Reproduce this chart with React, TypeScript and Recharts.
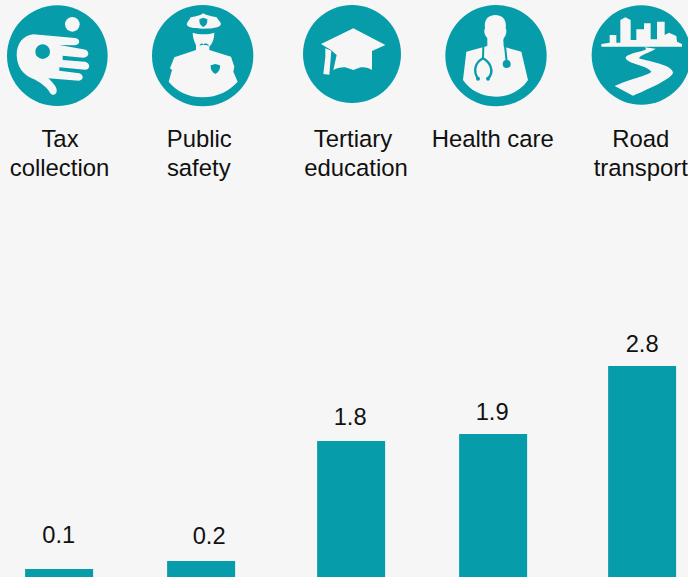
import React from "react";
import { BarChart, Bar, XAxis, YAxis, LabelList, Rectangle } from "recharts";

const categories = ["Tax collection", "Public safety", "Tertiary education", "Health care", "Road transport"];
const values = [0.1, 0.2, 1.8, 1.9, 2.8];
const labelLines = [["Tax", "collection"], ["Public", "safety"], ["Tertiary", "education"], ["Health care"], ["Road", "transport"]];

const rows = categories.map((name, i) => ({ name, value: values[i] }));

const TEAL = "#079ca9";
const BG = "#f6f6f6";
const INK = "#111111";
const FONT = '"Liberation Sans", Arial, sans-serif';
const FS = 23.7;
const FS_CATEGORY = 23.9;

// hand-placed layout offsets around the library's evenly spaced categories
const barNudge = [0, -3.75, 0.5, -3.25, 0];
const barTopNudge = [-0.46, -0.92, -0.28, 0.26, 0.12];
const valueNudgeX = [-0.3, 4.25, -0.5, -4.25, 0];
const valueGap = [26.3, 18.3, 16, 14, 14];
const iconNudge = [-59, -58.75, -54.5, -58.25, -59];
const lineNudge = [[1, 0.5], [-5.5, -6], [2.5, 5.5], [-3.5], [-1.2, -1.2]];
const lineBaseline = [147, 176];

const iconDisc = [
  [172, 167, 151],
  [170, 167, 152],
  [168, 162, 147],
  [174, 167, 152],
  [175, 165, 149],
];

function IconArt({ index }: { index: number }) {
  if (index === 0) {
    return (
      <g>
        <circle cx={217} cy={73} r={22} fill={BG} />
        <path
          fill={BG}
          d="M100 103 L225 114 C242 116 242 134 225 136 L178 135 L250 148 C270 150 270 173 250 173 L188 167 L188 180 L255 185 C272 188 272 209 255 209 L178 202 L178 212 L238 220 C252 224 252 242 236 242 L145 235 C160 250 172 262 170 275 C168 285 156 288 150 278 C140 262 120 245 95 235 C70 222 52 205 50 165 C50 130 70 106 100 103 Z"
        />
        <circle cx={128} cy={155} r={22} fill={TEAL} />
      </g>
    );
  }
  if (index === 1) {
    return (
      <g>
        <path fill={BG} d="M172 40 C185 48 205 50 212 52 C218 62 225 68 225 72 C222 82 205 86 172 86 C140 86 124 82 122 72 C124 66 130 60 134 52 C145 50 160 48 172 40 Z" />
        <path fill={TEAL} d="M172 53 L184 58 C185 70 180 78 172 81 C164 78 159 70 160 58 Z" />
        <path
          fill={BG}
          d="M140 98 C160 104 185 104 205 98 C205 115 200 130 190 140 L190 150 L255 170 L265 200 L262 215 L275 245 C250 272 215 292 170 292 C125 292 90 272 68 245 L78 210 L72 205 L85 172 L150 150 L150 135 C145 125 140 112 140 98 Z"
        />
        <path fill={TEAL} d="M160 137 C165 128 170 130 172 134 C175 130 182 128 190 137 L178 135 L166 135 Z" />
        <path fill={TEAL} d="M208 192 L222 196 C223 210 216 218 208 222 C200 218 193 210 194 196 Z" />
      </g>
    );
  }
  if (index === 2) {
    return (
      <g>
        <path fill={BG} d="M75 132 L172 85 L268 135 L228 153 L228 210 C220 205 205 200 190 203 L172 210 L152 203 C140 200 125 204 112 210 L122 165 L105 150 Z" />
        <path fill={BG} d="M88 145 L106 152 L100 224 L82 222 L88 170 Z" />
      </g>
    );
  }
  if (index === 3) {
    return (
      <g>
        <path
          fill={BG}
          d="M141 85 C137 58 152 45 172 45 C192 45 207 58 203 85 C208 95 204 105 197 115 L197 140 L250 155 L270 240 C250 270 215 290 175 290 C130 290 95 270 75 240 L85 155 L148 138 L148 115 C140 105 136 95 141 85 Z"
        />
        <path fill="none" stroke={TEAL} strokeWidth={6} d="M199 118 L206 185" />
        <circle cx={206} cy={192} r={12} fill={TEAL} />
        <path fill="none" stroke={TEAL} strokeWidth={6} d="M136 138 L135 175" />
        <path fill="none" stroke={TEAL} strokeWidth={7} d="M120 236 C105 215 110 188 135 175 C158 188 170 215 150 236" />
        <circle cx={120} cy={236} r={6} fill={TEAL} />
        <circle cx={150} cy={236} r={6} fill={TEAL} />
      </g>
    );
  }
  return (
    <g>
      <path
        fill={BG}
        d="M55 140 L55 132 L80 128 L80 105 L100 105 L100 128 L112 128 L112 60 L127 52 L143 60 L143 120 L160 120 L160 88 L183 88 L183 70 L203 70 L203 118 L222 118 L222 65 L245 65 L245 105 L258 98 L280 108 L282 125 L297 132 L297 140 Z"
      />
      <path
        fill={BG}
        d="M185 142 L218 146 C200 158 170 165 168 175 C200 185 268 195 270 218 C268 235 200 265 150 287 L95 258 C130 240 200 225 205 215 C190 195 125 190 128 172 C135 160 180 155 190 148 Z"
      />
    </g>
  );
}

function TopTick(props: any) {
  const { x, index } = props;
  const disc = iconDisc[index];
  const lines = labelLines[index];
  return (
    <g>
      <g transform={`translate(${x + iconNudge[index]} 0) scale(${1 / 3})`}>
        <circle cx={disc[0]} cy={disc[1]} r={disc[2]} fill={TEAL} />
        <IconArt index={index} />
      </g>
      {lines.map((line, k) => (
        <text
          key={line}
          x={x + lineNudge[index][k]}
          y={lineBaseline[k]}
          textAnchor="middle"
          fontFamily={FONT}
          fontSize={FS_CATEGORY}
          fill={INK}
        >
          {line}
        </text>
      ))}
    </g>
  );
}

function NudgedBar(props: any) {
  const { index, x, y, width, height, fill } = props;
  const dy = barTopNudge[index];
  return <Rectangle x={x + barNudge[index]} y={y + dy} width={width} height={height - dy} fill={fill} />;
}

function ValueLabel(props: any) {
  const { x, y, width, value, index } = props;
  return (
    <text
      x={x + width / 2 + valueNudgeX[index]}
      y={y - valueGap[index]}
      textAnchor="middle"
      fontFamily={FONT}
      fontSize={FS}
      fill={INK}
    >
      {value}
    </text>
  );
}

export default function App() {
  return (
    <div style={{ position: "absolute", left: 0, top: 0, width: 688, height: 577, background: BG, overflow: "hidden" }}>
      <BarChart width={688} height={577} data={rows} margin={{ top: 0, right: 0, bottom: 0, left: 0 }}>
        <XAxis
          dataKey="name"
          orientation="top"
          scale="point"
          padding={{ left: 59, right: 46 }}
          height={200}
          axisLine={false}
          tickLine={false}
          interval={0}
          tick={<TopTick />}
        />
        <YAxis hide domain={[0, 5]} />
        <Bar dataKey="value" barSize={68} fill={TEAL} isAnimationActive={false} shape={<NudgedBar />}>
          <LabelList dataKey="value" content={<ValueLabel />} />
        </Bar>
      </BarChart>
    </div>
  );
}
